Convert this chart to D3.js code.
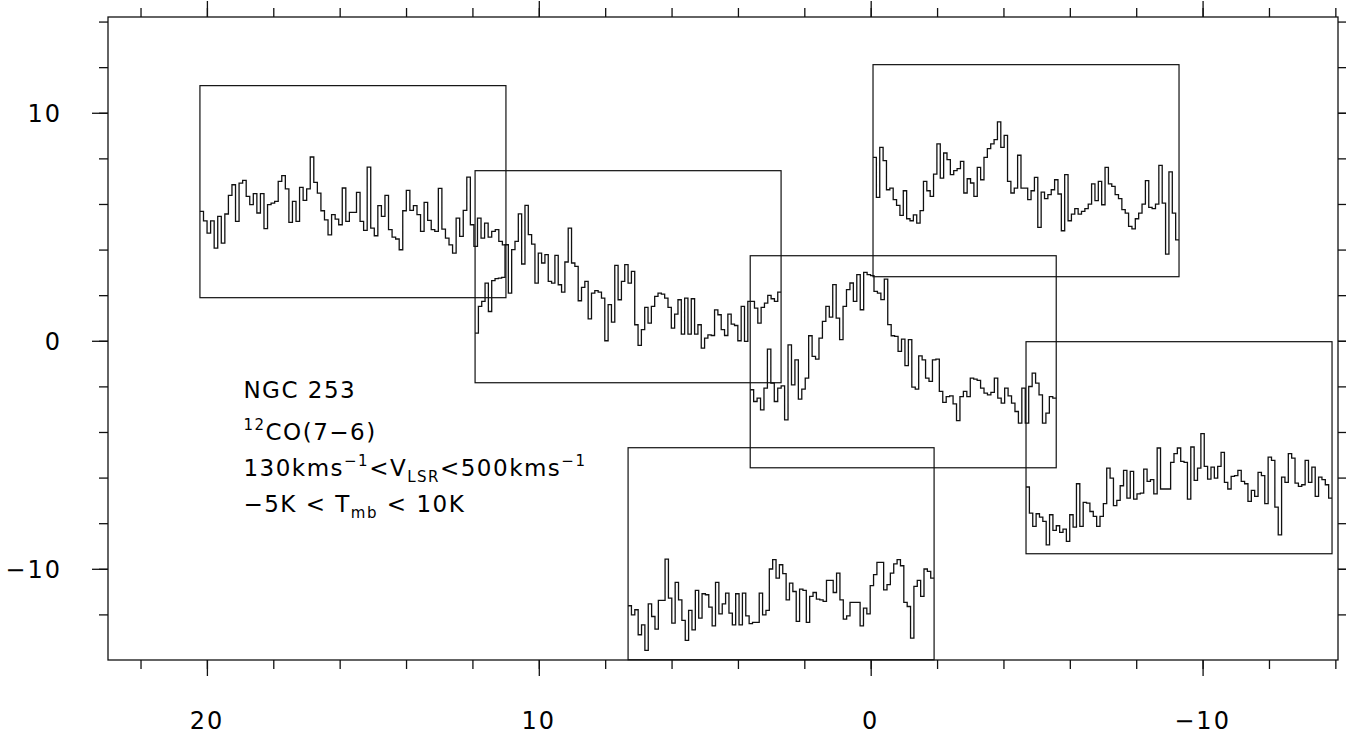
<!DOCTYPE html>
<html><head><meta charset="utf-8">
<script src="https://cdn.jsdelivr.net/npm/d3@7"></script>
<style>body{margin:0;background:#fff} svg{display:block} text{font-family:"DejaVu Sans",sans-serif;fill:#000}</style>
</head><body><svg id="c" width="1346" height="738"></svg>
<script>
// Outer map axes (offsets)
const xMajorTicks = [20, 10, 0, -10];
const yMajorTicks = [10, 0, -10];
const xMinorTicks = d3.range(-14, 23, 2);
const yMinorTicks = d3.range(-12, 15, 2);
// Spectrum box centres (offsets) and box size
const boxCx = [15.6, 7.31, -0.98, -4.68, -9.29, 2.70];
const boxCy = [6.54, 2.81, -0.92, 7.46, -4.69, -9.34];
const boxW = 9.22, boxH = 9.30;
// Spectral axis limits
const vRange = [130, 500];
const tRange = [-5, 10];
// Spectra (Tmb, K)
const spec1 = [1.10,0.44,-0.43,0.44,-1.49,0.75,-1.14,0.92,2.24,2.99,0.40,3.11,3.30,2.17,1.58,2.36,0.99,2.36,-0.12,1.58,1.69,1.81,3.23,3.63,2.69,0.33,1.81,0.40,2.80,1.88,2.69,4.95,3.16,2.40,1.15,0.51,-0.55,0.87,0.56,0.16,2.76,0.40,1.03,1.03,2.45,0.40,-0.24,4.24,-0.08,-0.62,1.51,0.75,2.24,-0.19,-0.71,-0.85,-1.61,1.15,2.59,1.17,1.51,0.87,-0.31,1.74,0.47,-0.19,-0.31,2.73,-0.15,-0.78,-1.26,-1.85,0.63,-0.67,1.17,3.53,0.16,-1.37,0.63,-0.78,0.28,-0.71,-0.31,-0.19,-1.02,-1.26];
const spec2 = [-1.49,0.40,0.75,2.05,0.04,2.22,2.36,2.40,2.45,4.76,1.34,4.41,5.00,6.94,3.40,7.55,5.47,4.81,2.05,4.17,3.47,4.06,2.17,2.05,4.01,1.93,1.41,3.54,5.94,3.47,3.23,0.80,1.74,2.17,-0.48,1.34,1.51,1.41,0.99,-2.03,0.52,-0.71,3.30,0.87,2.17,3.35,2.05,2.88,-0.90,-2.36,-1.25,0.33,-0.78,0.40,1.11,1.34,1.27,0.99,0.33,-1.14,-0.14,0.87,-1.56,0.99,-1.56,0.94,-1.56,-0.90,-2.55,-1.84,-1.61,-1.66,0.16,-0.19,-1.25,-1.66,-0.14,-0.85,-0.95,-2.03,0.40,-2.08,0.75,0.75,0.28,-0.78,0.33,0.63,1.18,0.94,0.75,1.41];
const spec3 = [0.52,-0.31,-0.07,-0.90,0.63,3.40,0.99,-0.31,0.63,0.80,-1.61,3.70,0.87,2.64,-0.14,0.56,1.34,4.34,2.88,2.69,4.17,5.35,6.42,5.66,7.95,5.59,4.06,6.42,7.60,8.07,6.77,8.66,6.18,8.82,8.66,8.59,7.48,7.36,6.89,8.35,5.12,4.34,4.29,3.23,4.10,2.22,4.06,0.70,0.56,2.92,2.64,1.34,1.11,2.64,2.69,0.40,-0.38,0.04,0.09,-0.48,-1.66,0.04,0.40,0.04,1.34,1.27,1.18,0.63,0.28,0.16,0.33,1.34,-0.07,-0.43,0.63,0.09,-0.43,-1.02,-1.84,0.63,-1.84,0.75,1.70,0.99,0.16,-1.84,-1.14,0.04,-0.07];
const spec4 = [3.44,0.61,4.15,3.21,1.15,1.27,0.45,0.05,-0.66,1.08,-0.90,-1.04,-0.62,-1.21,-0.33,1.74,1.08,0.68,2.26,4.39,1.98,3.75,3.28,2.22,2.50,2.64,3.16,0.92,1.93,1.63,0.68,2.74,1.86,3.44,4.06,4.39,4.70,5.95,4.15,5.00,1.74,0.92,1.27,3.59,1.27,1.27,0.45,1.08,2.03,-1.51,0.99,0.52,0.80,1.15,1.86,0.85,-1.75,2.22,-1.04,-0.57,-0.19,-0.57,-0.38,-0.19,0.14,1.56,0.38,1.74,0.09,2.74,1.56,1.39,0.80,0.52,-0.26,-0.50,-1.44,-1.61,-0.90,-0.50,0.14,1.79,-0.10,-0.19,0.14,2.88,0.21,-3.40,2.41,-0.50,-2.39];
const spec5 = [-0.28,-2.12,-3.07,-2.17,-2.41,-2.71,-4.37,-2.24,-3.35,-3.02,-3.49,-3.26,-4.13,-2.24,-3.12,-0.05,-3.07,-1.37,-1.42,-2.01,-2.36,-3.07,-2.36,-1.46,1.06,0.35,-1.60,-1.23,-0.19,0.90,-1.06,0.83,-1.13,-0.76,-0.71,0.99,0.12,0.24,-0.76,2.48,-0.42,-0.42,-0.42,1.46,2.08,2.48,1.53,1.46,-1.13,2.55,0.19,1.06,3.49,1.18,0.28,1.13,0.35,1.18,2.17,0.05,-0.42,0.47,0.52,0.90,0.12,-0.05,-1.30,-0.52,-0.94,0.76,0.52,-1.46,1.84,1.60,-1.70,-3.66,0.42,0.05,2.08,1.77,0.00,-0.24,-0.12,1.60,0.05,1.13,-0.94,0.42,0.24,-0.12,-1.06];
const spec6 = [-1.18,-1.82,-1.46,-3.23,-2.53,-4.34,-1.04,-1.94,-2.83,-0.80,-0.80,2.12,-0.64,-2.41,0.47,-0.76,-2.22,-3.63,-1.51,-2.88,-0.09,-2.05,-0.33,-0.40,-1.27,-2.60,0.47,-1.75,-1.04,-0.28,-1.70,-2.53,-0.33,-2.53,-0.28,-1.89,-2.45,-2.36,-2.36,-0.28,-1.82,-1.51,1.42,2.08,0.78,1.72,1.09,-0.76,0.42,-0.17,-2.29,0.00,-0.09,-2.36,-0.52,-0.24,-0.71,-0.76,-0.87,0.61,0.61,-0.24,1.13,-0.76,-2.12,-1.89,-0.94,-0.94,-0.94,-2.60,-1.35,-1.75,0.24,1.02,1.89,1.89,-0.05,0.31,1.13,1.79,2.08,1.65,-0.94,-1.23,-3.47,0.19,0.61,-0.52,1.42,1.25,0.78];
const spectra = [spec1, spec2, spec3, spec4, spec5, spec6];
const labelLines = ["NGC 253", "12CO(7-6)", "130kms-1<VLSR<500kms-1", "-5K < Tmb < 10K"];

const svg = d3.select("#c");
const x = d3.scaleLinear().domain([22.98, -14.08]).range([108, 1338]);
const y = d3.scaleLinear().domain([-14, 14.2]).range([660, 17]);
const fmt = d => d < 0 ? "\u2212" + Math.abs(d) : String(d);

const ink = "#111";
// frame
svg.append("rect").attr("x", 108).attr("y", 17).attr("width", 1230).attr("height", 643)
  .attr("fill", "none").attr("stroke", ink).attr("stroke-width", 1.3);

function addAxis(axis, tr) {
  const g = svg.append("g").attr("transform", tr).call(axis);
  g.select(".domain").remove();
  g.selectAll("line").attr("stroke", ink).attr("stroke-width", 1.3);
  return g;
}
addAxis(d3.axisBottom(x).tickValues(xMinorTicks).tickSize(9).tickFormat(""), "translate(0,660)");
addAxis(d3.axisBottom(x).tickValues(xMajorTicks).tickSize(16).tickFormat(""), "translate(0,660)");
addAxis(d3.axisTop(x).tickValues(xMinorTicks).tickSize(9).tickFormat(""), "translate(0,17)");
addAxis(d3.axisTop(x).tickValues(xMajorTicks).tickSize(16).tickFormat(""), "translate(0,17)");
addAxis(d3.axisLeft(y).tickValues(yMinorTicks).tickSize(9).tickFormat(""), "translate(108,0)");
addAxis(d3.axisLeft(y).tickValues(yMajorTicks).tickSize(16).tickFormat(""), "translate(108,0)");
addAxis(d3.axisRight(y).tickValues(yMinorTicks).tickSize(9).tickFormat(""), "translate(1338,0)");
addAxis(d3.axisRight(y).tickValues(yMajorTicks).tickSize(16).tickFormat(""), "translate(1338,0)");

svg.selectAll(".xl").data(xMajorTicks).enter().append("text")
  .attr("x", d => x(d)).attr("y", 729).attr("text-anchor", "middle")
  .attr("font-size", 24).attr("letter-spacing", 2).text(fmt);
svg.selectAll(".yl").data(yMajorTicks).enter().append("text")
  .attr("x", 62).attr("y", d => y(d) + 9).attr("text-anchor", "end")
  .attr("font-size", 24).attr("letter-spacing", 2).text(fmt);

// boxes and spectra
spectra.forEach((vals, i) => {
  const l = x(boxCx[i] + boxW / 2), r = x(boxCx[i] - boxW / 2);
  const t = y(boxCy[i] + boxH / 2), b = y(boxCy[i] - boxH / 2);
  svg.append("rect").attr("x", l).attr("y", t).attr("width", r - l).attr("height", b - t)
    .attr("fill", "none").attr("stroke", ink).attr("stroke-width", 1.2);
  const vx = d3.scaleLinear().domain(vRange).range([l, r]);
  const ty = d3.scaleLinear().domain(tRange).range([b, t]);
  const dv = (vRange[1] - vRange[0]) / vals.length;
  const pts = vals.map((v, j) => [vRange[0] + j * dv, v]);
  pts.push([vRange[1], vals[vals.length - 1]]);
  const line = d3.line().x(d => vx(d[0])).y(d => ty(d[1])).curve(d3.curveStepAfter);
  svg.append("path").attr("d", line(pts)).attr("fill", "none")
    .attr("stroke", ink).attr("stroke-width", 1.3);
});

// annotation text
const tx = x(18.9);
const fs = 23;
const g = svg.append("g").attr("font-size", fs).attr("letter-spacing", 1.5);
g.append("text").attr("x", tx).attr("y", 398).text(labelLines[0]);
const t2 = g.append("text").attr("x", tx).attr("y", 440);
t2.append("tspan").attr("font-size", 15).attr("dy", -10).text("12");
t2.append("tspan").attr("dy", 10).text("CO(7\u22126)");
const t3 = g.append("text").attr("x", tx).attr("y", 476);
t3.append("tspan").text("130kms");
t3.append("tspan").attr("font-size", 15).attr("dy", -10).text("\u22121");
t3.append("tspan").attr("dy", 10).text("<V");
t3.append("tspan").attr("font-size", 15).attr("dy", 6).text("LSR");
t3.append("tspan").attr("dy", -6).text("<500kms");
t3.append("tspan").attr("font-size", 15).attr("dy", -10).text("\u22121");
const t4 = g.append("text").attr("x", tx).attr("y", 512);
t4.append("tspan").text("\u22125K < T");
t4.append("tspan").attr("font-size", 15).attr("dy", 6).text("mb");
t4.append("tspan").attr("dy", -6).text(" < 10K");
</script></body></html>
